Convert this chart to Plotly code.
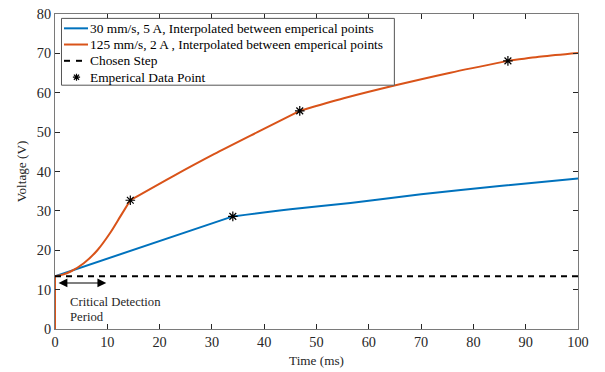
import plotly.graph_objects as go

# Blue series: 30 mm/s, 5 A
blue_t = [0, 0, 34.0, 45.0, 56.5, 70.0, 85.0, 100.0]
blue_v = [0, 13.4, 28.6, 30.4, 32.0, 34.2, 36.3, 38.2]

# Orange series: 125 mm/s, 2 A
orange_t = [0, 0, 1.5, 3.0, 5.5, 8.1, 10.6, 12.5, 14.4, 22.7, 30.4, 38.7, 46.8,
            55.2, 65.1, 75.6, 86.6, 93.0, 100.0]
orange_v = [0, 13.4, 13.8, 14.6, 16.7, 20.0, 24.5, 28.6, 32.7, 38.9, 44.4, 50.0, 55.4,
            58.6, 61.9, 65.1, 68.1, 69.2, 70.1]

# Empirical data points
emp_t = [14.4, 46.8, 86.6, 34.0]
emp_v = [32.7, 55.4, 68.1, 28.6]

# Chosen step
step_t = [0, 100]
step_v = [13.4, 13.4]

legend_labels = ["30 mm/s, 5 A, Interpolated between emperical points",
                 "125 mm/s, 2 A , Interpolated between emperical points",
                 "Chosen Step",
                 "Emperical Data Point"]

BLUE = "#0072BD"
ORANGE = "#D95319"
FONT = "Liberation Serif, Times New Roman, serif"
FS_TICK = 14.3
FS_LEG = 13.4
FS_TITLE = 13.2
FS_NOTE = 12.7
TXT = "#262626"

fig = go.Figure()


def add_segments(t, v, color, name, breaks):
    # vertical step at t=0 drawn linearly, curved parts smoothed between empirical points
    fig.add_trace(go.Scatter(x=t[0:2], y=v[0:2], mode="lines", showlegend=False,
                             line=dict(color=color, width=2), name=name))
    for a, b in zip(breaks[:-1], breaks[1:]):
        fig.add_trace(go.Scatter(x=t[a:b + 1], y=v[a:b + 1], mode="lines", showlegend=False,
                                 line=dict(color=color, width=2, shape="spline", smoothing=0.8),
                                 name=name))


add_segments(blue_t, blue_v, BLUE, legend_labels[0], [1, 2, len(blue_t) - 1])
add_segments(orange_t, orange_v, ORANGE, legend_labels[1], [1, 8, 12, 16, len(orange_t) - 1])

fig.add_trace(go.Scatter(x=step_t, y=step_v, mode="lines", showlegend=False,
                         line=dict(color="black", width=2, dash="6px,5px"),
                         name=legend_labels[2]))
fig.add_trace(go.Scatter(x=emp_t, y=emp_v, mode="markers", showlegend=False,
                         marker=dict(symbol="asterisk-open", size=8, color="black",
                                     line=dict(color="black", width=1.2)),
                         name=legend_labels[3]))

# ---- legend drawn as a box (pixel geometry of the reference legend) ----
L, R, T, B = 54.5, 577.7, 6.0, 329.0


def px(x):
    return (x - L) / (R - L)


def py(y):
    return (B - y) / (B - T)


shapes = [dict(type="rect", xref="paper", yref="paper", x0=px(61), x1=px(394),
               y0=py(79), y1=py(10.5), line=dict(color="#555555", width=1),
               fillcolor="white", layer="above")]
rows = [20.7, 37.3, 54.0, 70.8]
shapes.append(dict(type="line", xref="paper", yref="paper", x0=px(63.5), x1=px(87.5),
                   y0=py(rows[0]), y1=py(rows[0]), line=dict(color=BLUE, width=2), layer="above"))
shapes.append(dict(type="line", xref="paper", yref="paper", x0=px(63.5), x1=px(87.5),
                   y0=py(rows[1]), y1=py(rows[1]), line=dict(color=ORANGE, width=2), layer="above"))
for d0 in (63.5, 75.5):
    shapes.append(dict(type="line", xref="paper", yref="paper", x0=px(d0), x1=px(d0 + 6),
                       y0=py(rows[2]), y1=py(rows[2]), line=dict(color="black", width=2),
                       layer="above"))
cx, cy, r = 76.0, rows[3], 3.6
star = (f"M{px(cx - r)},{py(cy)} L{px(cx + r)},{py(cy)} "
        f"M{px(cx)},{py(cy - r)} L{px(cx)},{py(cy + r)} "
        f"M{px(cx - r * 0.72)},{py(cy - r * 0.72)} L{px(cx + r * 0.72)},{py(cy + r * 0.72)} "
        f"M{px(cx - r * 0.72)},{py(cy + r * 0.72)} L{px(cx + r * 0.72)},{py(cy - r * 0.72)}")
shapes.append(dict(type="path", xref="paper", yref="paper", path=star,
                   line=dict(color="black", width=1.2), layer="above"))

annotations = []
for lab, ry in zip(legend_labels, rows):
    annotations.append(dict(x=px(88), y=py(ry), xref="paper", yref="paper",
                            xanchor="left", yanchor="middle", text=lab, showarrow=False,
                            font=dict(family=FONT, size=FS_LEG, color="black")))

# double arrow for critical detection period
annotations.append(dict(x=9.8, y=11.7, ax=0.4, ay=11.7, xref="x", yref="y",
                        axref="x", ayref="y", text="", showarrow=True,
                        arrowhead=2, arrowside="end+start", arrowsize=1.6,
                        arrowwidth=1.1, arrowcolor="black"))
annotations.append(dict(x=2.4, y=6.75, xref="x", yref="y", xanchor="left", yanchor="middle",
                        text="Critical Detection", showarrow=False,
                        font=dict(family=FONT, size=FS_NOTE, color=TXT)))
annotations.append(dict(x=2.4, y=2.95, xref="x", yref="y", xanchor="left", yanchor="middle",
                        text="Period", showarrow=False,
                        font=dict(family=FONT, size=FS_NOTE, color=TXT)))

axis_common = dict(showline=True, linecolor="#7a7a7a", linewidth=1.2, mirror="ticks",
                   ticks="inside", ticklen=5, tickcolor="#262626", tickwidth=1,
                   showgrid=False, zeroline=False, ticklabeloverflow="allow",
                   tickfont=dict(family=FONT, size=FS_TICK, color=TXT))

fig.update_xaxes(range=[0, 100], tickmode="array", tickvals=list(range(0, 101, 10)),
                 title=dict(text="Time (ms)", font=dict(family=FONT, size=FS_TITLE, color=TXT),
                            standoff=6),
                 **axis_common)
fig.update_yaxes(range=[0, 80], tickmode="array", tickvals=list(range(0, 81, 10)),
                 title=dict(text="Voltage (V)", font=dict(family=FONT, size=FS_TITLE, color=TXT),
                            standoff=7),
                 **axis_common)

fig.update_layout(
    width=605, height=372,
    margin=dict(l=55, r=27, t=6, b=43),
    paper_bgcolor="white", plot_bgcolor="white",
    font=dict(family=FONT, size=FS_TICK, color=TXT),
    showlegend=False,
    shapes=shapes,
    annotations=annotations,
)

fig.write_html("out.html")
